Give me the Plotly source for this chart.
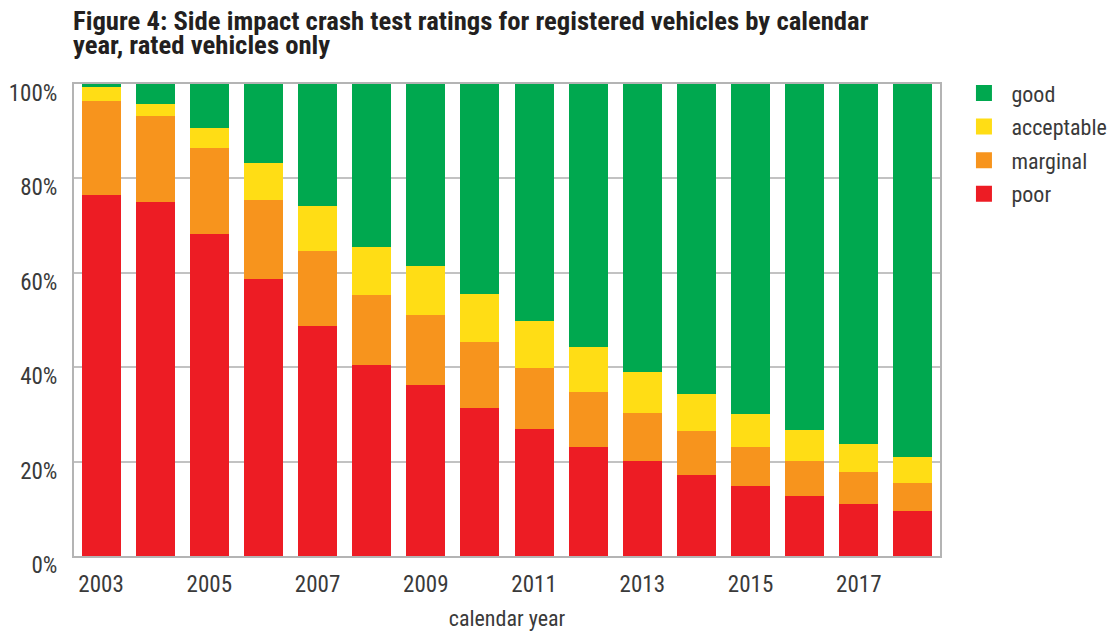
import plotly.graph_objects as go

years = list(range(2003, 2019))
poor = [76.5, 75.0, 68.2, 58.6, 48.8, 40.5, 36.2, 31.4, 26.9, 23.2, 20.1, 17.2, 14.8, 12.7, 11.0, 9.6]
marginal = [20.0, 18.3, 18.3, 16.9, 15.9, 14.8, 14.8, 13.9, 12.9, 11.6, 10.2, 9.3, 8.3, 7.5, 6.8, 5.9]
acceptable = [2.9, 2.5, 4.2, 7.8, 9.5, 10.2, 10.4, 10.2, 10.0, 9.5, 8.7, 7.8, 7.0, 6.5, 5.9, 5.5]
good = [round(100 - p - m - a, 1) for p, m, a in zip(poor, marginal, acceptable)]

title_lines = ["Figure 4: Side impact crash test ratings for registered vehicles by calendar",
               "year, rated vehicles only"]

series = [("poor", poor, "#ED1C24"), ("marginal", marginal, "#F7941D"),
          ("acceptable", acceptable, "#FFDD15"), ("good", good, "#00A84F")]

FONT = "Liberation Sans Narrow, Roboto Condensed, DejaVu Sans Condensed, Arial Narrow, sans-serif"

fig = go.Figure()
for name, vals, col in series:
    fig.add_trace(go.Bar(x=years, y=vals, name=name, marker=dict(color=col, line=dict(width=0)),
                         showlegend=False))
for name, vals, col in reversed(series):
    fig.add_trace(go.Scatter(x=[None], y=[None], mode="markers", name=name, legendgroup=name,
                             marker=dict(symbol="square", size=20, color=col)))

for i, (line, ypos) in enumerate(zip(title_lines, [1.1330, 1.0816])):
    fig.add_annotation(text="<b>" + line + "</b>", xref="paper", yref="paper", x=-0.0035, y=ypos,
                       xanchor="left", yanchor="middle", showarrow=False, align="left",
                       font=dict(family=FONT, size=26.7, color="#231f20"))

fig.update_layout(
    width=1118, height=634,
    margin=dict(l=66, r=186, t=76, b=86),
    barmode="stack", bargap=0.28,
    plot_bgcolor="white", paper_bgcolor="white",
    font=dict(family=FONT, size=23, color="#3a3a3a"),
    legend=dict(traceorder="grouped", x=1.019, xanchor="left", y=1.025, yanchor="top",
                font=dict(size=22, color="#3a3a3a"), itemsizing="trace", itemwidth=45,
                tracegroupgap=2, bgcolor="rgba(0,0,0,0)"),
    xaxis=dict(range=[2002.5, 2018.5], tickmode="linear", tick0=2003, dtick=2,
               showgrid=False, showline=True, linecolor="#b4b4b4", linewidth=2, mirror=True,
               ticks="", ticklabelstandoff=6, automargin=False,
               title=dict(text="calendar year", font=dict(size=22), standoff=14)),
    yaxis=dict(range=[0, 100], tickmode="linear", tick0=0, dtick=20, ticksuffix="%",
               showgrid=True, gridcolor="#c2c2c2", gridwidth=2,
               showline=True, linecolor="#b4b4b4", linewidth=2, mirror=True,
               ticks="", zeroline=False, ticklabelshift=9,
               ticklabelstandoff=10, automargin=False),
)

fig.write_html("out.html")
